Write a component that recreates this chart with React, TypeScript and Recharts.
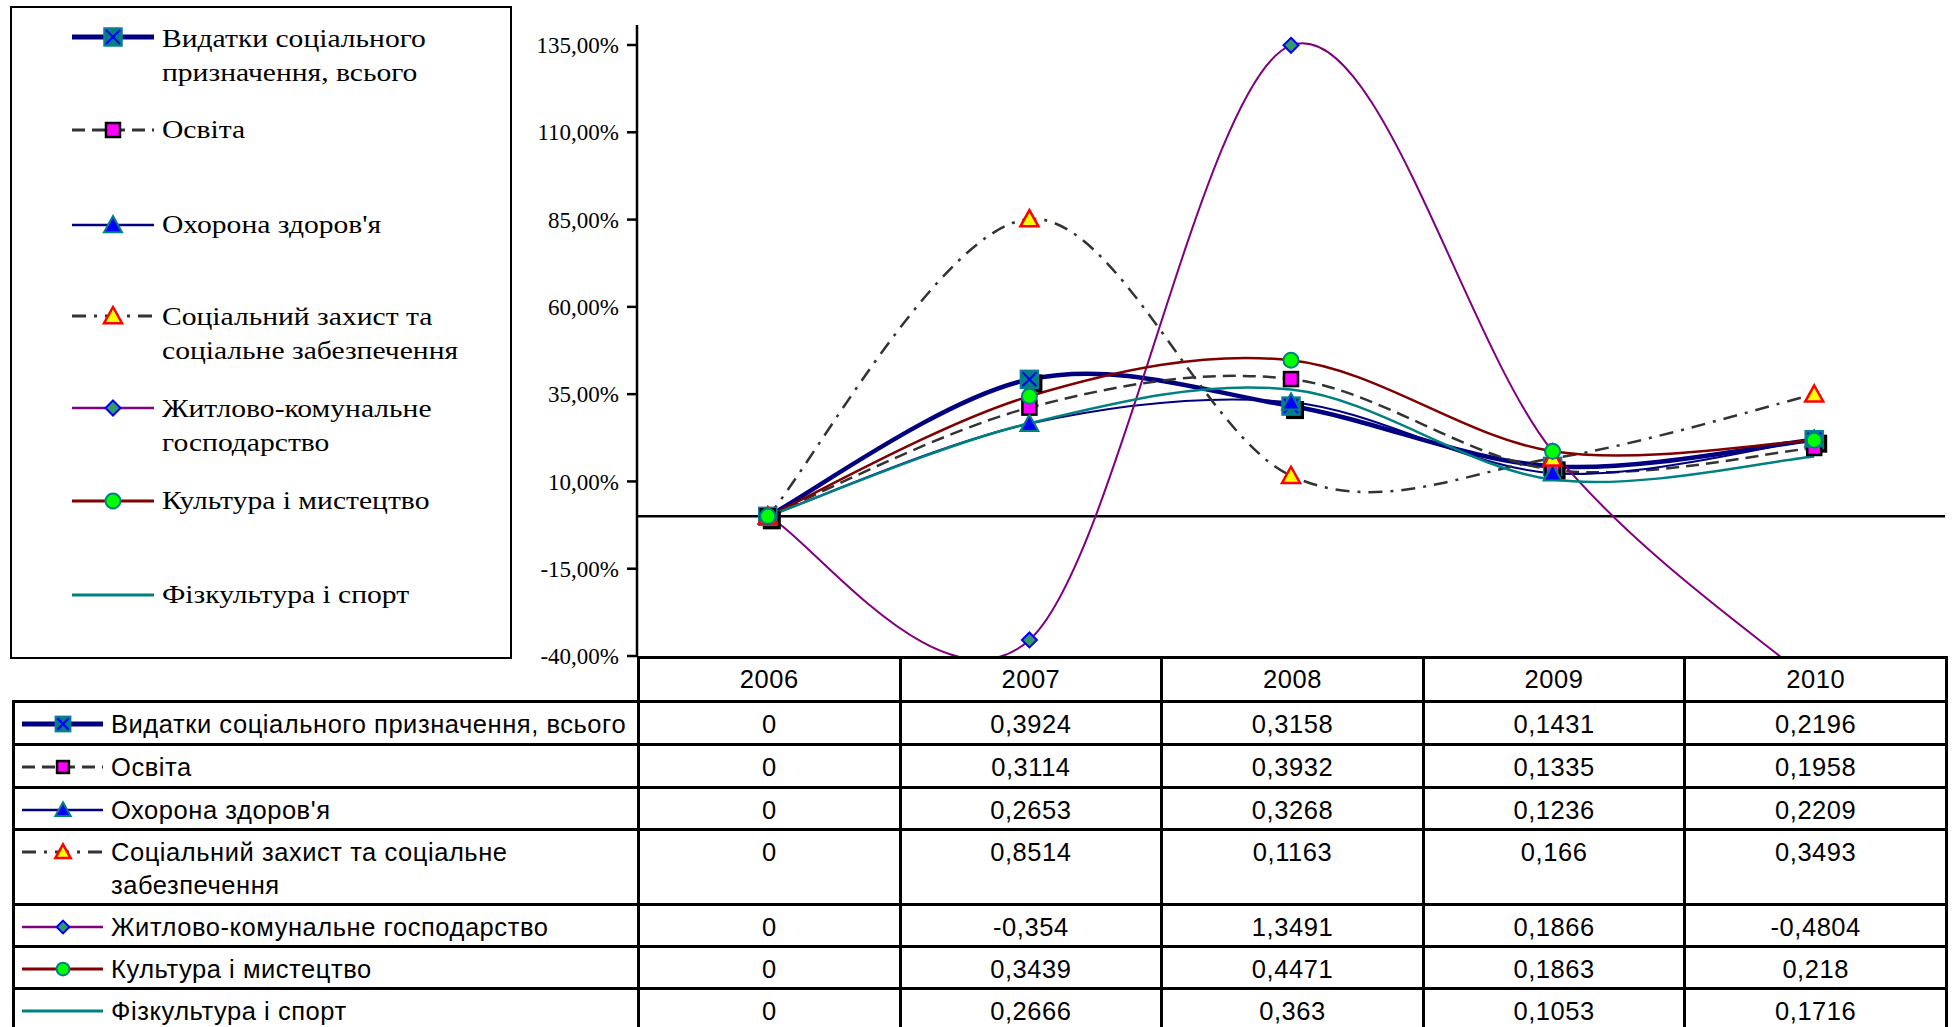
import React from 'react';
import { LineChart, Line, XAxis, YAxis, ReferenceLine } from 'recharts';

// ---------- data ----------
const years = ['2006', '2007', '2008', '2009', '2010'];
const totalSocial = [0, 0.3924, 0.3158, 0.1431, 0.2196];
const education = [0, 0.3114, 0.3932, 0.1335, 0.1958];
const health = [0, 0.2653, 0.3268, 0.1236, 0.2209];
const socialProtection = [0, 0.8514, 0.1163, 0.166, 0.3493];
const housing = [0, -0.354, 1.3491, 0.1866, -0.4804];
const culture = [0, 0.3439, 0.4471, 0.1863, 0.218];
const sport = [0, 0.2666, 0.363, 0.1053, 0.1716];
const yTicks = [-0.4, -0.15, 0.1, 0.35, 0.6, 0.85, 1.1, 1.35];

const names = [
  'Видатки соціального призначення, всього',
  'Освіта',
  "Охорона здоров'я",
  'Соціальний захист та соціальне забезпечення',
  'Житлово-комунальне господарство',
  'Культура і мистецтво',
  'Фізкультура і спорт',
];
const legendLines = [
  ['Видатки соціального', 'призначення, всього'],
  ['Освіта'],
  ["Охорона здоров'я"],
  ['Соціальний захист та', 'соціальне забезпечення'],
  ['Житлово-комунальне', 'господарство'],
  ['Культура і мистецтво'],
  ['Фізкультура і спорт'],
];
const tableLines = [
  ['Видатки соціального призначення, всього'],
  ['Освіта'],
  ["Охорона здоров'я"],
  ['Соціальний захист та соціальне', 'забезпечення'],
  ['Житлово-комунальне господарство'],
  ['Культура і мистецтво'],
  ['Фізкультура і спорт'],
];
const seriesValues = [totalSocial, education, health, socialProtection, housing, culture, sport];

// ---------- styles ----------
type MarkerKind = 'xsquare' | 'square' | 'triBlue' | 'triYellow' | 'diamond' | 'circle' | 'none';
const styles: { color: string; width: number; dash?: string; marker: MarkerKind }[] = [
  { color: '#000080', width: 4.5, marker: 'xsquare' },
  { color: '#333333', width: 2.5, dash: '13 7', marker: 'square' },
  { color: '#000080', width: 2, marker: 'triBlue' },
  { color: '#333333', width: 2.5, dash: '14 8 3 8', marker: 'triYellow' },
  { color: '#800080', width: 2, marker: 'diamond' },
  { color: '#800000', width: 2.5, marker: 'circle' },
  { color: '#008080', width: 2.5, marker: 'none' },
];

const data = years.map((y, i) => {
  const row: Record<string, number | string> = { year: y };
  seriesValues.forEach((vals, s) => {
    row['s' + s] = vals[i];
  });
  return row;
});

// Excel-like smoothed curve (Catmull-Rom bezier)
const excelCurve: any = (ctx: any) => {
  let pts: number[][] = [];
  return {
    areaStart() {},
    areaEnd() {},
    lineStart() {
      pts = [];
    },
    point(x: number, y: number) {
      pts.push([+x, +y]);
    },
    lineEnd() {
      const n = pts.length;
      if (!n) return;
      ctx.moveTo(pts[0][0], pts[0][1]);
      for (let i = 0; i < n - 1; i++) {
        const p0 = pts[Math.max(0, i - 1)];
        const p1 = pts[i];
        const p2 = pts[i + 1];
        const p3 = pts[Math.min(n - 1, i + 2)];
        ctx.bezierCurveTo(
          p1[0] + (p2[0] - p0[0]) / 6,
          p1[1] + (p2[1] - p0[1]) / 6,
          p2[0] - (p3[0] - p1[0]) / 6,
          p2[1] - (p3[1] - p1[1]) / 6,
          p2[0],
          p2[1]
        );
      }
    },
  };
};

function Marker({ kind, cx, cy, scale = 1, shadow = true }: { kind: MarkerKind; cx: number; cy: number; scale?: number; shadow?: boolean }) {
  const k = scale;
  switch (kind) {
    case 'xsquare': {
      const h = 9 * k;
      return (
        <g>
          {shadow && <rect x={cx - h + 4 * k} y={cy - h + 4 * k} width={2 * h} height={2 * h} fill="#000" />}
          <rect x={cx - h} y={cy - h} width={2 * h} height={2 * h} fill="#008080" stroke="#0a7f9a" strokeWidth={1.5} />
          <path d={`M${cx - h + 2} ${cy - h + 2}L${cx + h - 2} ${cy + h - 2}M${cx + h - 2} ${cy - h + 2}L${cx - h + 2} ${cy + h - 2}`} stroke="#0000FF" strokeWidth={2.2} />
        </g>
      );
    }
    case 'square': {
      const h = 7 * k;
      return <rect x={cx - h} y={cy - h} width={2 * h} height={2 * h} fill="#FF00FF" stroke="#000" strokeWidth={2.5} />;
    }
    case 'triBlue': {
      const h = 9 * k;
      return <path d={`M${cx} ${cy - h}L${cx + h} ${cy + h * 0.8}L${cx - h} ${cy + h * 0.8}Z`} fill="#0000FF" stroke="#008080" strokeWidth={2} />;
    }
    case 'triYellow': {
      const h = 9 * k;
      return <path d={`M${cx} ${cy - h}L${cx + h} ${cy + h * 0.8}L${cx - h} ${cy + h * 0.8}Z`} fill="#FFFF00" stroke="#FF0000" strokeWidth={2.5} />;
    }
    case 'diamond': {
      const h = 7.5 * k;
      return <path d={`M${cx} ${cy - h}L${cx + h} ${cy}L${cx} ${cy + h}L${cx - h} ${cy}Z`} fill="#339966" stroke="#0000FF" strokeWidth={2} />;
    }
    case 'circle':
      return <circle cx={cx} cy={cy} r={7.5 * k} fill="#00FF00" stroke="#008080" strokeWidth={2} />;
    default:
      return null;
  }
}

const makeDot = (kind: MarkerKind) => (props: any) => {
  const { cx, cy, index } = props;
  if (kind === 'none' || cx == null || cy == null) return <g key={'d' + index} />;
  return (
    <g key={'d' + index}>
      <Marker kind={kind} cx={cx} cy={cy} />
    </g>
  );
};

const fmtPct = (v: number) => (v * 100).toFixed(2).replace('.', ',') + '%';
const fmtVal = (v: number) => (v === 0 ? '0' : String(v).replace('.', ','));

function LegendKey({ i, w, h, x1, x2, mx, k = 1 }: { i: number; w: number; h: number; x1: number; x2: number; mx: number; k?: number }) {
  const st = styles[i];
  const cy = h / 2;
  return (
    <svg width={w} height={h} style={{ display: 'block' }}>
      <line x1={x1} x2={x2} y1={cy} y2={cy} stroke={st.color} strokeWidth={st.width + 0.5} strokeDasharray={st.dash} />
      <Marker kind={st.marker} cx={mx} cy={cy} scale={k} shadow={false} />
    </svg>
  );
}

const legendPos = [
  { top: 20, mark: 35 },
  { top: 111, mark: 128 },
  { top: 206, mark: 223 },
  { top: 298, mark: 314 },
  { top: 390, mark: 406 },
  { top: 482, mark: 499 },
  { top: 576, mark: 593 },
];

const colW = 261.6;
const rowH = [43, 43, 42, 75, 42, 42, 44];

export default function App() {
  return (
    <div style={{ position: 'relative', width: 1952, height: 1027, overflow: 'hidden', background: '#fff' }}>
      <style>{'body{margin:0;}'}</style>
      <div style={{ position: 'absolute', left: 0, top: 0 }}>
        <LineChart width={1952} height={700} data={data} margin={{ top: 25, right: 7, bottom: 44, left: 0 }}>
          <XAxis dataKey="year" hide padding={{ left: colW / 2, right: colW / 2 }} />
          <YAxis
            width={637}
            domain={[-0.4, 1.4073]}
            ticks={yTicks}
            allowDataOverflow
            tickFormatter={fmtPct}
            axisLine={{ stroke: '#000', strokeWidth: 2.5 }}
            tickLine={{ stroke: '#000', strokeWidth: 2.5 }}
            tickSize={10}
            tickMargin={8}
            tick={{ fill: '#000', fontSize: 23, fontFamily: '"Liberation Serif", "Times New Roman", serif' }}
          />
          <ReferenceLine y={0} stroke="#000" strokeWidth={2.5} ifOverflow="hidden" />
          {styles.map((st, i) => (
            <Line
              key={i}
              dataKey={'s' + i}
              name={names[i]}
              type={excelCurve}
              stroke={st.color}
              strokeWidth={st.width}
              strokeDasharray={st.dash}
              dot={makeDot(st.marker)}
              activeDot={false}
              isAnimationActive={false}
            />
          ))}
        </LineChart>
      </div>

      {/* legend box */}
      <div
        style={{
          position: 'absolute',
          left: 10,
          top: 6,
          width: 502,
          height: 653,
          border: '2px solid #000',
          boxSizing: 'border-box',
          fontFamily: '"Liberation Serif", "Times New Roman", serif',
          fontSize: 25.5,
          color: '#000',
        }}
      >
        {legendPos.map((p, i) => (
          <React.Fragment key={i}>
            <div style={{ position: 'absolute', left: 58, top: p.mark - 6 - 20 }}>
              <LegendKey i={i} w={100} h={40} x1={2} x2={84} mx={43} />
            </div>
            <div
              style={{
                position: 'absolute',
                left: 150,
                top: p.top - 6,
                lineHeight: '34px',
                whiteSpace: 'nowrap',
                transform: 'scaleX(1.16)',
                transformOrigin: 'left top',
              }}
            >
              {legendLines[i].map((t, j) => (
                <div key={j}>{t}</div>
              ))}
            </div>
          </React.Fragment>
        ))}
      </div>

      {/* data table */}
      <table
        style={{
          position: 'absolute',
          left: 12,
          top: 656,
          borderCollapse: 'collapse',
          tableLayout: 'fixed',
          fontFamily: '"Liberation Sans", Arial, sans-serif',
          fontSize: 25.5,
          letterSpacing: '0.55px',
          color: '#000',
        }}
      >
        <colgroup>
          <col style={{ width: 625 }} />
          {years.map((y) => (
            <col key={y} style={{ width: colW }} />
          ))}
        </colgroup>
        <tbody>
          <tr style={{ height: 44 }}>
            <td style={{ padding: 0, borderBottom: '3px solid #000' }} />
            {years.map((y) => (
              <td key={y} style={{ border: '3px solid #000', textAlign: 'center', padding: 0 }}>
                {y}
              </td>
            ))}
          </tr>
          {names.map((n, i) => (
            <tr key={n} style={{ height: rowH[i] }}>
              <td style={{ border: '3px solid #000', padding: 0, verticalAlign: 'top', position: 'relative' }}>
                <div style={{ position: 'absolute', left: 2, top: 1 }}>
                  <LegendKey i={i} w={96} h={40} x1={5} x2={86} mx={46} k={0.85} />
                </div>
                <div style={{ marginLeft: 96, paddingTop: 4.5, lineHeight: '33px', whiteSpace: 'nowrap' }}>
                  {tableLines[i].map((t, j) => (
                    <div key={j}>{t}</div>
                  ))}
                </div>
              </td>
              {seriesValues[i].map((v, j) => (
                <td key={j} style={{ border: '3px solid #000', textAlign: 'center', verticalAlign: 'top', padding: 0, paddingTop: 4.5, lineHeight: '33px' }}>
                  {fmtVal(v)}
                </td>
              ))}
            </tr>
          ))}
        </tbody>
      </table>
    </div>
  );
}
